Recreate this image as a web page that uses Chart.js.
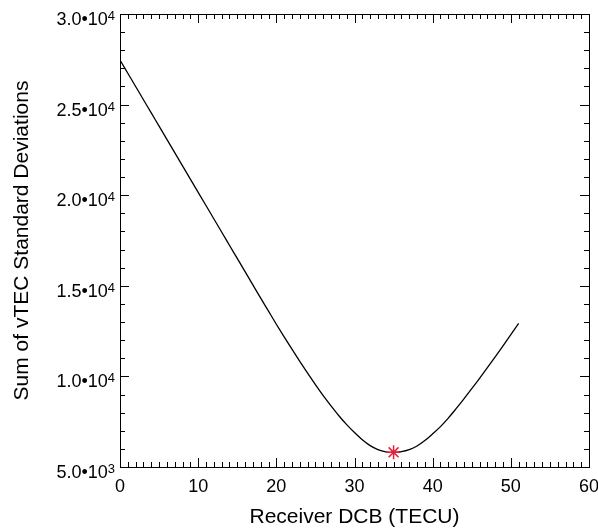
<!DOCTYPE html>
<html>
<head>
<meta charset="utf-8">
<title>Receiver DCB search</title>
<script src="https://cdn.jsdelivr.net/npm/chart.js@4.4.1/dist/chart.umd.min.js"></script>
<style>
  html, body { margin: 0; padding: 0; background: #ffffff; overflow: hidden; }
  #wrap { width: 640px; height: 531px; }
</style>
</head>
<body>
<div id="wrap"><canvas id="chart" width="640" height="531"></canvas></div>
<script>
// Candidate receiver DCB values (TECU)
const dcbValues = [
  0, 1, 2, 3, 4, 5, 6, 7, 8, 9,
  10, 11, 12, 13, 14, 15, 16, 17, 18, 19,
  20, 21, 22, 23, 24, 25, 26, 27, 28, 29,
  30, 31, 32, 33, 34, 35, 36, 37, 38, 39,
  40, 41, 42, 43, 44, 45, 46, 47, 48, 49,
  50, 51
];

// Sum of vTEC standard deviations for each candidate DCB
const stdSums = [
  27460, 26730, 26000, 25270, 24540, 23810, 23080, 22350, 21620, 20890,
  20160, 19430, 18700, 17970, 17240, 16510, 15780, 15050, 14320, 13600,
  12880, 12180, 11500, 10830, 10180, 9550, 8940, 8370, 7830, 7340,
  6900, 6500, 6180, 5960, 5840, 5810, 5850, 5960, 6160, 6460,
  6830, 7230, 7700, 8220, 8760, 9320, 9890, 10480, 11080, 11690,
  12310, 12930
];

// Selected DCB (minimum of the curve)
const bestDcb = [35];
const bestSum = [5810];

// Axis ranges and labels
const xRange = [0, 60];
const xMajorStep = 10;
const xMinorStep = 1;
const yRange = [5000, 30000];
const yMajorStep = 5000;
const yMinorStep = 1000;
const yTickValues = [5000, 10000, 15000, 20000, 25000, 30000];
const yTickMantissas = ['5.0', '1.0', '1.5', '2.0', '2.5', '3.0'];
const yTickExponents = ['3', '4', '4', '4', '4', '4'];
const xTitle = 'Receiver DCB (TECU)';
const yTitle = 'Sum of vTEC Standard Deviations';

const FONT = "'Liberation Sans', Arial, Helvetica, sans-serif";

// Box frame with inward major/minor ticks on all four sides
const frameTicks = {
  id: 'frameTicks',
  afterDatasetsDraw(chart) {
    const { ctx, chartArea: a, scales: { x, y } } = chart;
    ctx.save();
    ctx.strokeStyle = '#000';
    ctx.lineWidth = 1;
    ctx.beginPath();
    for (let v = xRange[0]; v <= xRange[1] + 1e-9; v += xMinorStep) {
      const px = Math.round(x.getPixelForValue(v)) + 0.5;
      const len = (Math.abs(v % xMajorStep) < 1e-9) ? 9 : 5;
      ctx.moveTo(px, a.bottom); ctx.lineTo(px, a.bottom - len);
      ctx.moveTo(px, a.top); ctx.lineTo(px, a.top + len);
    }
    for (let v = yRange[0]; v <= yRange[1] + 1e-9; v += yMinorStep) {
      const py = Math.round(y.getPixelForValue(v)) + 0.5;
      const len = (Math.abs(v % yMajorStep) < 1e-9) ? 9 : 5;
      ctx.moveTo(a.left, py); ctx.lineTo(a.left + len, py);
      ctx.moveTo(a.right, py); ctx.lineTo(a.right - len, py);
    }
    ctx.stroke();
    ctx.strokeRect(Math.round(a.left) + 0.5, Math.round(a.top) + 0.5,
                   Math.round(a.width), Math.round(a.height));
    ctx.restore();
  }
};

// Y tick labels in scientific form: mantissa•10 with a raised exponent
const sciTickLabels = {
  id: 'sciTickLabels',
  afterDraw(chart) {
    const { ctx, chartArea: a, scales: { y } } = chart;
    const right = a.left - 5;
    ctx.save();
    ctx.fillStyle = '#000';
    ctx.textBaseline = 'alphabetic';
    ctx.textAlign = 'right';
    yTickValues.forEach((v, i) => {
      const base = y.getPixelForValue(v) + 11;
      ctx.font = '13px ' + FONT;
      const expW = ctx.measureText(yTickExponents[i]).width;
      ctx.fillText(yTickExponents[i], right, base - 5);
      ctx.font = '18px ' + FONT;
      ctx.fillText(yTickMantissas[i] + '\u202210', right - expW, base);
    });
    ctx.restore();
  }
};

new Chart(document.getElementById('chart'), {
  type: 'line',
  data: {
    datasets: [
      {
        label: 'best',
        data: bestDcb.map((v, i) => ({ x: v, y: bestSum[i] })),
        showLine: false,
        pointStyle: 'star',
        pointRadius: 7,
        pointBorderWidth: 1.5,
        pointBorderColor: '#e3203c',
        pointBackgroundColor: '#e3203c',
        order: 0
      },
      {
        label: 'sum',
        data: dcbValues.map((v, i) => ({ x: v, y: stdSums[i] })),
        borderColor: '#000000',
        borderWidth: 1.3,
        pointRadius: 0,
        cubicInterpolationMode: 'monotone',
        fill: false,
        order: 1
      }
    ]
  },
  options: {
    responsive: false,
    animation: false,
    devicePixelRatio: 1,
    layout: { padding: { left: 0, right: 51, top: 14, bottom: 0 } },
    plugins: { legend: { display: false }, tooltip: { enabled: false } },
    scales: {
      x: {
        type: 'linear',
        min: xRange[0],
        max: xRange[1],
        grid: { display: false },
        border: { display: false },
        ticks: {
          stepSize: xMajorStep,
          color: '#000',
          padding: 1,
          maxRotation: 0,
          font: { family: FONT, size: 18 }
        },
        title: {
          display: true,
          text: xTitle,
          color: '#000',
          font: { family: FONT, size: 21 },
          padding: { top: 0, bottom: 1 }
        },
        afterFit(scale) { scale.height = 64; }
      },
      y: {
        type: 'linear',
        min: yRange[0],
        max: yRange[1],
        grid: { display: false },
        border: { display: false },
        ticks: {
          display: false,
          stepSize: yMajorStep
        },
        title: {
          display: true,
          text: yTitle,
          color: '#000',
          font: { family: FONT, size: 21 },
          padding: { top: 10, bottom: 0 }
        },
        afterFit(scale) { scale.width = 120; }
      }
    }
  },
  plugins: [frameTicks, sciTickLabels]
});
</script>
</body>
</html>
